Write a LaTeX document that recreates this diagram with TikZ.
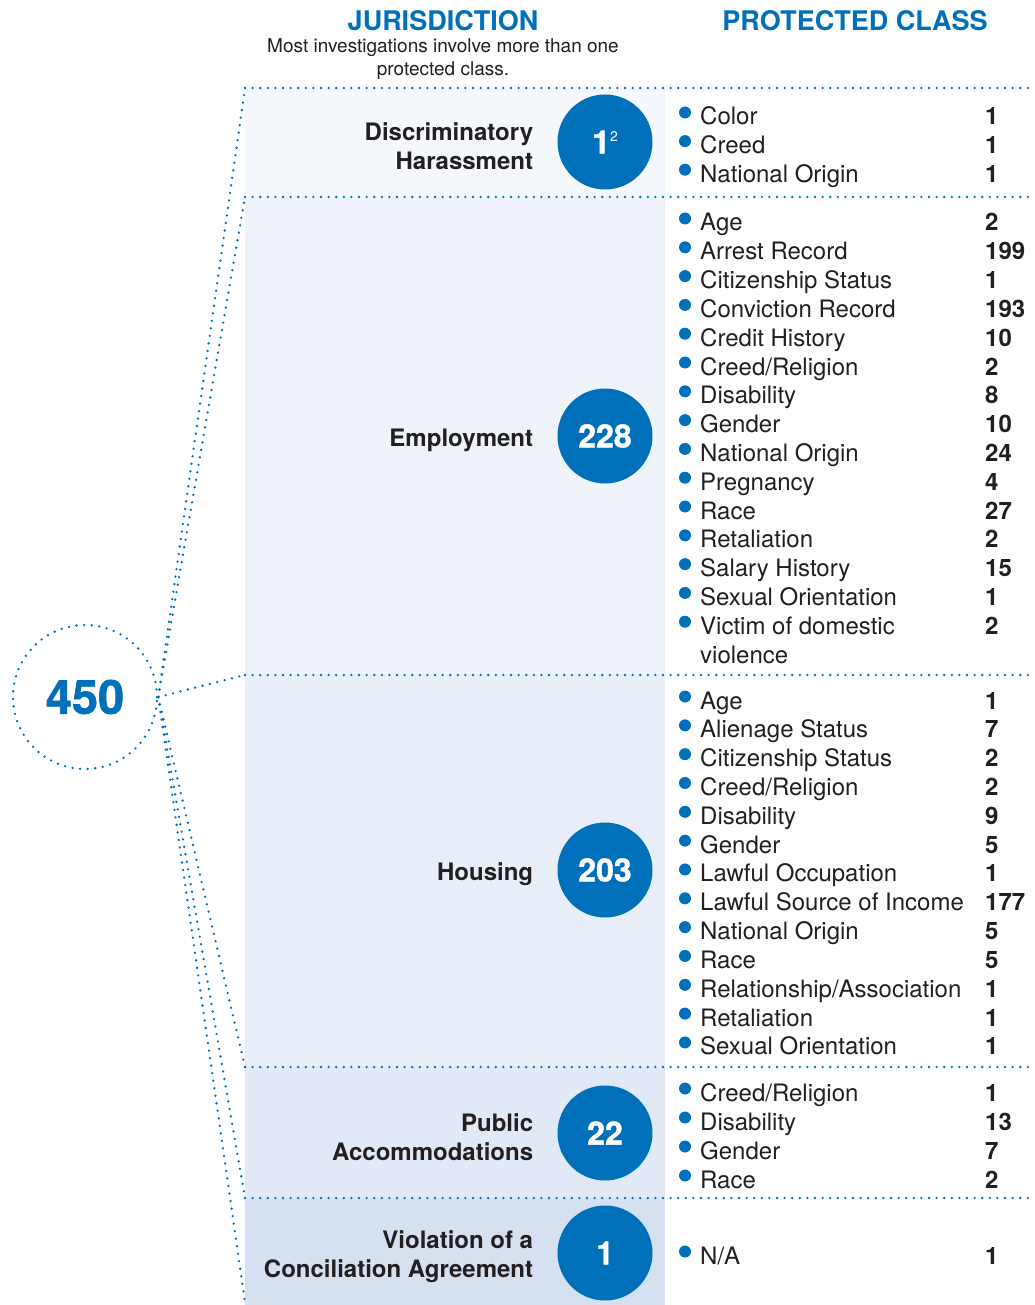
\documentclass[tikz,border=0pt]{standalone}
\usepackage{fontspec}
\setmainfont{TeX Gyre Heros}
\newfontfamily\heavyfont[FakeBold=1.3]{texgyreheros-bold.otf}
\usetikzlibrary{positioning}

\definecolor{mainblue}{RGB}{0,112,186}
\definecolor{inktext}{RGB}{35,31,32}
\definecolor{paneldisc}{RGB}{244,247,252}
\definecolor{panelemp}{RGB}{238,243,250}
\definecolor{panelhous}{RGB}{232,238,248}
\definecolor{panelpub}{RGB}{224,233,245}
\definecolor{panelviol}{RGB}{213,224,241}

\tikzset{
  dotline/.style = {draw=mainblue, line width=2.6pt, line cap=round, dash pattern=on 0pt off 7.6pt},
  item/.style = {anchor=base west, inner sep=0pt, text=inktext, font=\fontsize{24}{28}\selectfont},
  numtext/.style = {item, font=\fontsize{24}{28}\selectfont\bfseries},
  juris/.style = {align=right, inner sep=0pt, yshift=-4pt, text=inktext, font=\fontsize{24}{29}\selectfont\bfseries},
  bubble/.style = {circle, fill=mainblue, minimum size=95pt, inner sep=0pt, text=white, font=\heavyfont\fontsize{32}{32}\selectfont},
  head/.style = {inner sep=0pt, text=mainblue, font=\fontsize{27}{27}\selectfont\bfseries},
  subhead/.style = {inner sep=0pt, align=center, text=inktext, font=\fontsize{19}{23}\selectfont}
}

\begin{document}
\begin{tikzpicture}[x=1pt, y=-1pt]
    \useasboundingbox (0,0) rectangle (1034,1305);

    \fill[paneldisc] (245,88) rectangle (665,197);
    \fill[panelemp] (245,197) rectangle (665,675);
    \fill[panelhous] (245,675) rectangle (665,1067);
    \fill[panelpub] (245,1067) rectangle (665,1198);
    \fill[panelviol] (245,1198) rectangle (665,1305);

    \node[head] (hjur) at (443,21) {JURISDICTION};
    \node[head] (hclass) at (855,21) {PROTECTED CLASS};
    \node[subhead] (hnote) at (443,59.5) {Most investigations involve more than one\\protected class.};

    \coordinate (c1) at (245,88);
    \coordinate (c2) at (245,197);
    \coordinate (c3) at (245,675);
    \coordinate (c4) at (245,1067);
    \coordinate (c5) at (245,1198);
    \coordinate (c6) at (245,1302);

    \draw[dotline] (c1) -- (1034,88);
    \draw[dotline] (c2) -- (1034,197);
    \draw[dotline] (c3) -- (1034,675);
    \draw[dotline] (c4) -- (1034,1067);
    \draw[dotline] (c5) -- (1034,1198);

    \node[circle, dotline, minimum size=144pt, inner sep=0pt, text=mainblue,
          font=\heavyfont\fontsize{47}{47}\selectfont] (total) at (85,697) {450};

    \draw[dotline] (total.east) -- (c1);
    \draw[dotline] (total.east) -- (c2);
    \draw[dotline] (total.east) -- (c3);
    \draw[dotline] (total.east) -- (c4);
    \draw[dotline] (total.east) -- (c5);
    \draw[dotline] (total.east) -- (c6);

    \node[bubble] (cdisc) at (605,142) {1\raisebox{12pt}{\fontsize{14}{14}\selectfont\normalfont 2}};
    \node[bubble] (cemp) at (605,436) {228};
    \node[bubble] (chous) at (605,870) {203};
    \node[bubble] (cpub) at (605,1133) {22};
    \node[bubble] (cviol) at (605,1253) {1};

    \node[juris, left=24pt of cdisc] (disc) {Discriminatory\\Harassment};
    \node[juris, left=24pt of cemp] (emp) {Employment};
    \node[juris, left=24pt of chous] (hous) {Housing};
    \node[juris, left=24pt of cpub] (pub) {Public\\Accommodations};
    \node[juris, left=24pt of cviol] (viol) {Violation of a\\Conciliation Agreement};

    \foreach \name/\num [count=\i from 0] in {Color/1, Creed/1, National Origin/1} {
        \node[item] (disc-\i) at (700,{125+28.6*\i}) {\name};
        \node[numtext] (disc-n\i) at (985,{125+28.6*\i}) {\num};
        \fill[mainblue] ([xshift=-15pt,yshift=12.5pt]disc-\i.base west) circle (6pt);
    }

    \foreach \name/\num [count=\i from 0] in {Age/2, Arrest Record/199, Citizenship Status/1,
        Conviction Record/193, Credit History/10, {Creed/Religion}/2, Disability/8, Gender/10,
        National Origin/24, Pregnancy/4, Race/27, Retaliation/2, Salary History/15,
        Sexual Orientation/1, Victim of domestic/2} {
        \node[item] (emp-\i) at (700,{231+28.8*\i}) {\name};
        \node[numtext] (emp-n\i) at (985,{231+28.8*\i}) {\num};
        \fill[mainblue] ([xshift=-15pt,yshift=12.5pt]emp-\i.base west) circle (6pt);
    }
    \node[item] (emp-15) at (700,{231+28.8*15}) {violence};

    \foreach \name/\num [count=\i from 0] in {Age/1, Alienage Status/7, Citizenship Status/2,
        {Creed/Religion}/2, Disability/9, Gender/5, Lawful Occupation/1,
        Lawful Source of Income/177, National Origin/5, Race/5,
        {Relationship/Association}/1, Retaliation/1, Sexual Orientation/1} {
        \node[item] (hous-\i) at (700,{709+28.83*\i}) {\name};
        \node[numtext] (hous-n\i) at (985,{709+28.83*\i}) {\num};
        \fill[mainblue] ([xshift=-15pt,yshift=12.5pt]hous-\i.base west) circle (6pt);
    }

    \foreach \name/\num [count=\i from 0] in {{Creed/Religion}/1, Disability/13, Gender/7, Race/2} {
        \node[item] (pub-\i) at (700,{1101+29*\i}) {\name};
        \node[numtext] (pub-n\i) at (985,{1101+29*\i}) {\num};
        \fill[mainblue] ([xshift=-15pt,yshift=12.5pt]pub-\i.base west) circle (6pt);
    }

    \node[item] (viol-0) at (700,1264) {N/A};
    \node[numtext] (viol-n0) at (985,1264) {1};
    \fill[mainblue] ([xshift=-15pt,yshift=12.5pt]viol-0.base west) circle (6pt);
\end{tikzpicture}
\end{document}
